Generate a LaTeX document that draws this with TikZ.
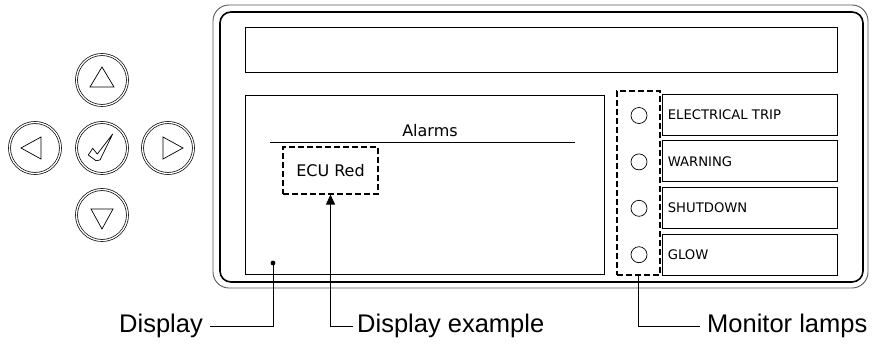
\documentclass[tikz,border=0pt]{standalone}
\usepackage{fontspec}
\setmainfont{Liberation Sans}
\newfontfamily\panelfont{DejaVu Sans}
\usetikzlibrary{arrows.meta,positioning}

\begin{document}
\begin{tikzpicture}[x=1pt,y=-1pt,
  box/.style={draw,line width=0.8pt,inner sep=0pt},
  dbox/.style={draw,line width=1.1pt,dash pattern=on 6pt off 3pt,inner sep=0pt},
  key/.style={circle,draw,double,double distance=1.3pt,line width=0.7pt,minimum size=51pt,inner sep=0pt},
  lamp/.style={circle,draw,line width=0.7pt,minimum size=16pt,inner sep=0pt},
  call/.style={line width=0.8pt},
  lbl/.style={font=\fontsize{25.5}{28}\selectfont,inner sep=0pt},
  tagtext/.style={font=\panelfont\fontsize{13.2}{15}\selectfont,inner sep=0pt}]
  \useasboundingbox (0,0) rectangle (875,343);
  % keypad
  \node[key] (up) at (102,80) {};
  \node[key] (ok) at (102,148) {};
  \node[key] (left) at (35,148) {};
  \node[key] (right) at (168,148) {};
  \node[key] (down) at (102,215) {};
  \draw[line width=0.7pt,shift={(up)}] (0,-13) -- (-12,7) -- (12,7) -- cycle;
  \draw[line width=0.7pt,shift={(down)}] (0,14) -- (-11,-6) -- (11,-6) -- cycle;
  \draw[line width=0.7pt,shift={(left)}] (-14,0) -- (6,-11) -- (6,11) -- cycle;
  \draw[line width=0.7pt,shift={(right)}] (15,0) -- (-5,-11) -- (-5,11) -- cycle;
  \draw[line width=0.7pt,line join=round,shift={(ok)}]
    (-13.7,7) -- (-9.3,0.3) -- (-4.7,6) -- (10.7,-14) -- (-2,12) -- (-6,12.7) -- cycle;
  % panel frame
  \draw[black!65,line width=0.9pt,rounded corners=16] (213,5) rectangle (868,288);
  \draw[line width=1.6pt,rounded corners=11] (220,12) rectangle (863,282);
  \node[box,minimum width=592pt,minimum height=45pt] (bar) at (541,49.5) {};
  \node[box,minimum width=359pt,minimum height=179pt] (screen) at (424.5,184.5) {};
  \node[font=\panelfont\fontsize{16}{18}\selectfont,inner sep=0pt] (alarms) at (430,131) {Alarms};
  \draw[line width=0.7pt] (270,142) -- (575,142);
  \node[dbox,minimum width=95pt,minimum height=47pt,font=\panelfont\fontsize{16}{18}\selectfont]
    (ecu) at (330.5,170.5) {ECU Red};
  \coordinate (spot) at (273,263);
  \fill (spot) circle (2.4);
  % monitor lamps
  \node[dbox,minimum width=43pt,minimum height=184pt] (lamps) at (638.5,183) {};
  \foreach \t [count=\i] in {ELECTRICAL TRIP,WARNING,SHUTDOWN,GLOW}{
    \node[box,minimum width=175pt,minimum height=41pt] (tag\i) at (749.5,{114.5+46.7*(\i-1)}) {};
    \node[tagtext,anchor=west] (tagtxt\i) at ([xshift=6pt]tag\i.west) {\t};
    \node[lamp] (lamp\i) at (639,{115.5+46.4*(\i-1)}) {};
  }
  % callouts
  \node[lbl,anchor=east] (displbl) at (203,326) {Display};
  \node[lbl,anchor=west] (exlbl) at (357,326) {Display example};
  \node[lbl,anchor=west] (monlbl) at (707,326) {Monitor lamps};
  \draw[call] (spot) |- ([xshift=7pt]displbl.east);
  \draw[call,-{Triangle[length=10pt,width=9pt]}] ([xshift=-4pt]exlbl.west) -| (ecu.south);
  \draw[call] ([xshift=-7pt]monlbl.west) -| (lamps.south);
\end{tikzpicture}
\end{document}
